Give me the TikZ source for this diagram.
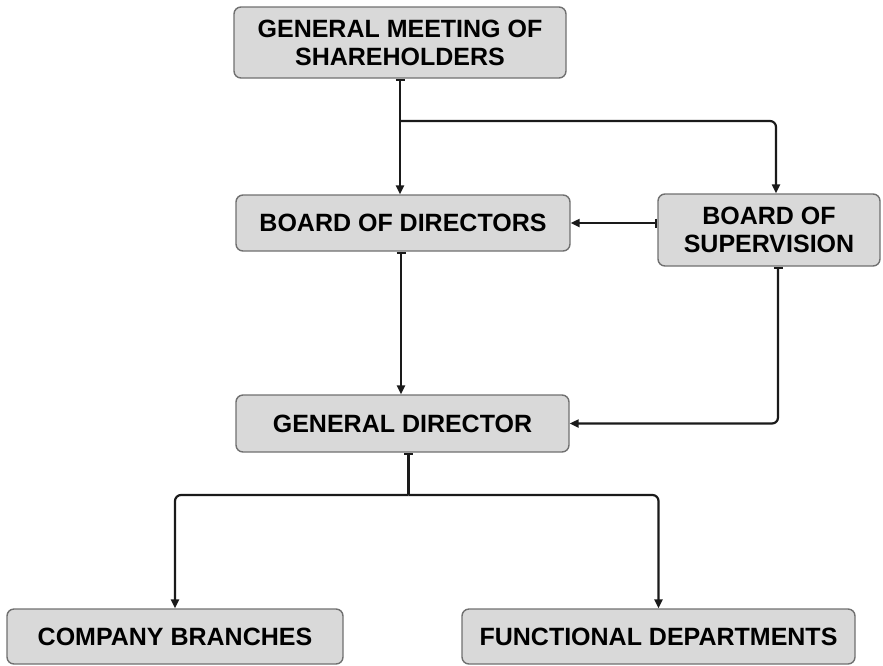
\documentclass[tikz,border=0pt]{standalone}
\usepackage{fontspec}
\setmainfont{Liberation Sans}
\usetikzlibrary{calc, arrows.meta}
\definecolor{boxfill}{HTML}{D9D9D9}
\definecolor{boxline}{HTML}{707070}
\definecolor{linecol}{HTML}{1A1A1A}

\begin{document}
\begin{tikzpicture}[x=1pt, y=-1pt, >=Stealth,
    box/.style={draw=boxline, fill=boxfill, rounded corners=7pt, line width=1.4pt,
      inner sep=0pt, align=center, font=\fontsize{25}{28}\selectfont\bfseries},
    link/.style={draw=linecol, line width=2.2pt, rounded corners=6pt,
      {Bar[width=9pt]}-{Triangle[length=9pt, width=8pt]}}]
    \useasboundingbox (0, 0) rectangle (883, 665);
    % boxes
    \node[box, minimum width=332pt, minimum height=71pt] (gms) at (400, 42.5) {GENERAL MEETING OF\\SHAREHOLDERS};
    \node[box, minimum width=334pt, minimum height=56pt] (bod) at (403, 223) {BOARD OF DIRECTORS};
    \node[box, minimum width=222pt, minimum height=72pt] (bos) at (769, 230) {BOARD OF\\SUPERVISION};
    \node[box, minimum width=333pt, minimum height=57pt] (gd) at (402.5, 423.5) {GENERAL DIRECTOR};
    \node[box, minimum width=336pt, minimum height=55pt] (cb) at (175, 636.5) {COMPANY BRANCHES};
    \node[box, minimum width=393pt, minimum height=55pt] (fd) at (658.5, 636.5) {FUNCTIONAL DEPARTMENTS};
    \coordinate (split1) at (400, 121);
    \coordinate (split2) at (408.5, 495);
    % connectors
    \draw[link] (gms.south) -- (gms.south |- bod.north);
    \draw[link, -{Triangle[length=9pt, width=8pt]}] (split1) -| ([xshift=7pt]bos.north);
    \draw[link] (bod.east -| bos.west) -- (bod.east);
    \draw[link] ([xshift=-2pt]bod.south) -- ([xshift=-2pt]bod.south |- gd.north);
    \draw[link] ([xshift=9pt]bos.south) |- (gd.east);
    \draw[link, {Bar[width=9pt]}-] ([xshift=6pt]gd.south) -- (split2);
    \draw[link, -{Triangle[length=9pt, width=8pt]}] (split2) -| (cb.north);
    \draw[link, -{Triangle[length=9pt, width=8pt]}] (split2) -| (fd.north);
\end{tikzpicture}
\end{document}
